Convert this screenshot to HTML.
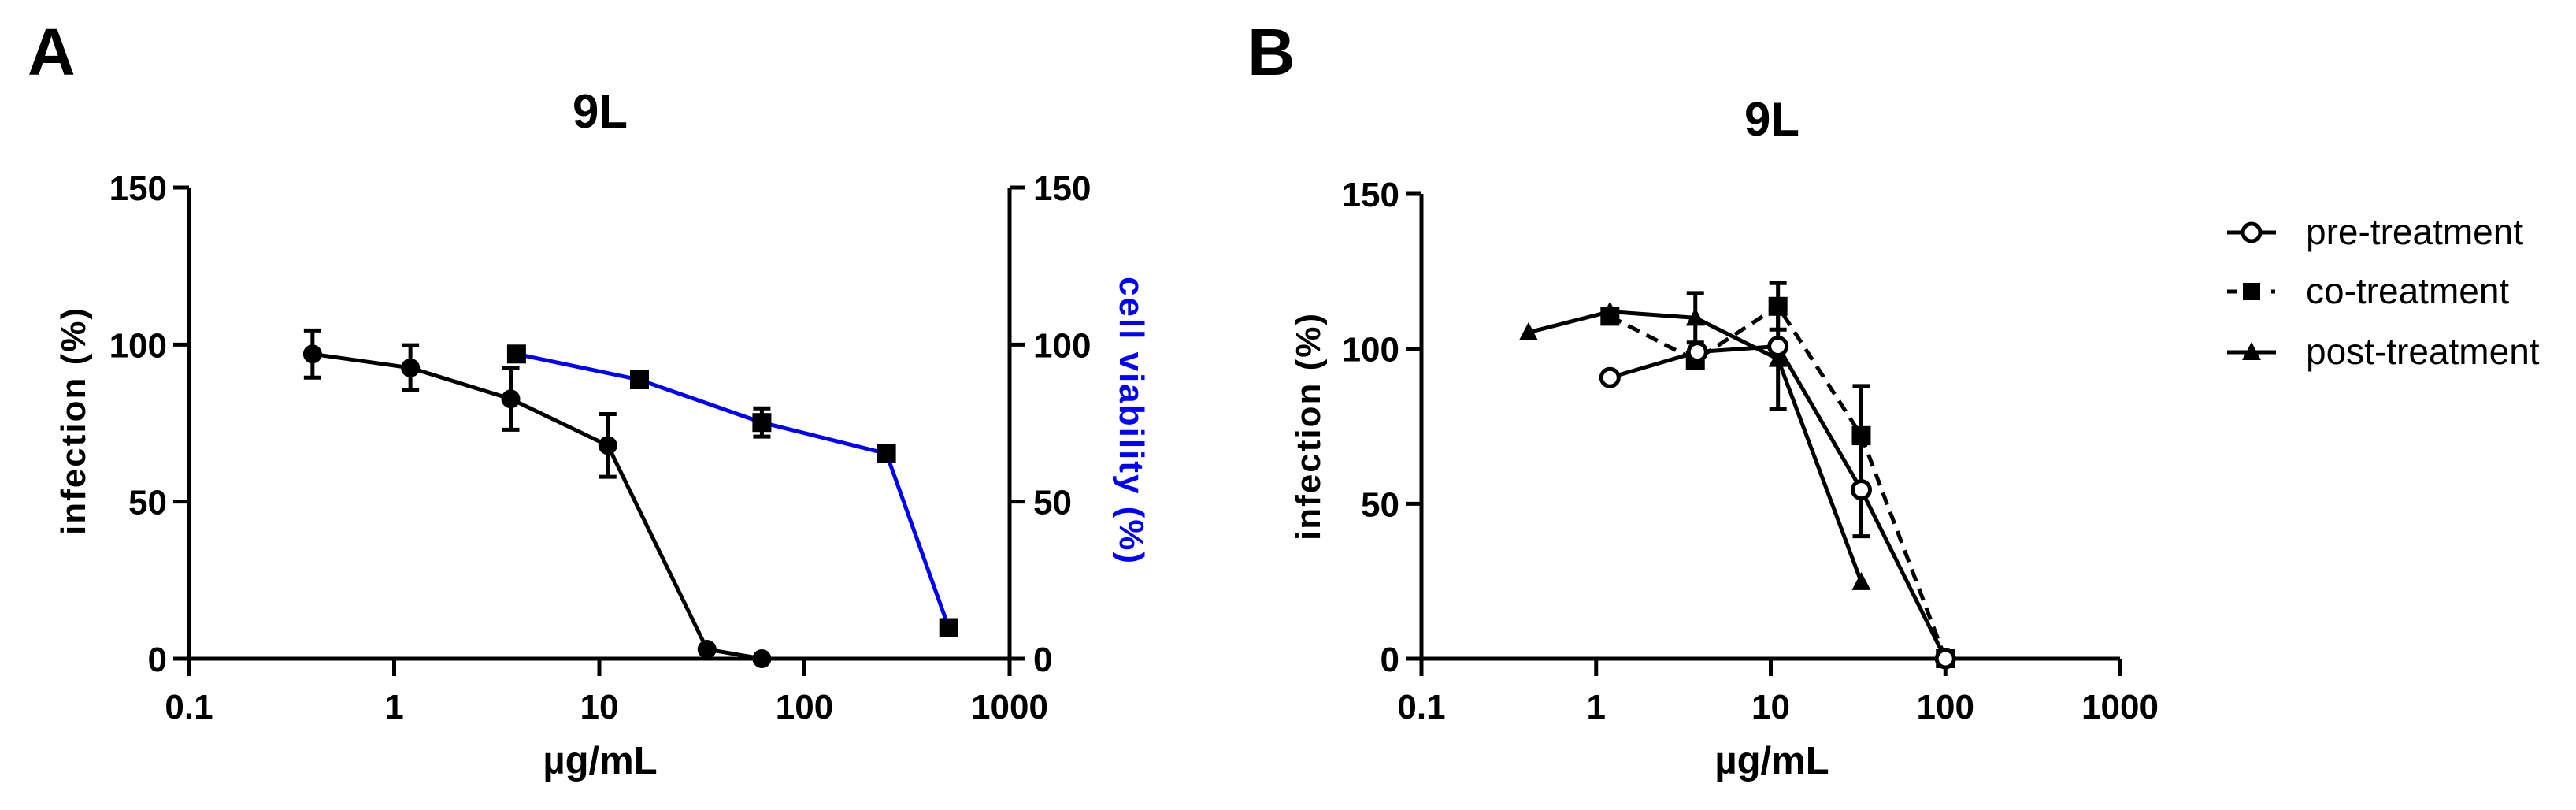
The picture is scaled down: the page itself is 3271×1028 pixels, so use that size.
<!DOCTYPE html>
<html><head><meta charset="utf-8"><style>
html,body{margin:0;padding:0;background:#fff;}
svg{display:block;font-family:"Liberation Sans",Arial,sans-serif;}
</style></head><body>
<svg id="fig" width="3271" height="1028" viewBox="0 0 3271 1028">
<g id="panelA"></g>
<g id="panelB"></g>
</svg>
<script>
// Panel A data
const aInfX = [0.4, 1.2, 3.7, 11, 33.5, 62];
const aInfY = [97, 92.6, 82.7, 67.9, 3, 0];
const aInfErr = [7.5, 7.2, 9.8, 10, 0, 0];
const aViaX = [3.95, 15.7, 62, 251, 505];
const aViaY = [97, 88.8, 75.2, 65.3, 9.9];
const aViaErr = [0, 0, 4.5, 1.5, 0];
// Panel B data
const bPreX = [1.2, 3.8, 11, 33, 100];
const bPreY = [90.7, 99, 100.8, 54.5, 0];
const bPreErr = [0, 0, 0, 15, 0];
const bCoX = [1.2, 3.7, 11, 33, 100];
const bCoY = [110.5, 96.3, 113.7, 72, 0];
const bCoErr = [0, 0, 7.5, 16, 0];
const bPostX = [0.41, 1.2, 3.7, 11, 33];
const bPostY = [105.3, 112, 110, 96.7, 24.7];
const bPostErr = [0, 0, 8, 16, 0];
const xTicks = [0.1, 1, 10, 100, 1000];
const xTickLabels = ["0.1", "1", "10", "100", "1000"];
const yTicks = [0, 50, 100, 150];

const NS = "http://www.w3.org/2000/svg";
function mk(parent, tag, attrs, text){
  const e = document.createElementNS(NS, tag);
  for (const k in attrs) e.setAttribute(k, attrs[k]);
  if (text !== undefined) e.textContent = text;
  parent.appendChild(e);
  return e;
}
function axes(x0, x1, y0, y1){
  const sx = v => x0 + (Math.log10(v) + 1) / 4 * (x1 - x0);
  const sy = v => y0 - v / 150 * (y0 - y1);
  return {sx, sy};
}
function drawSeries(g, ax, xs, ys, errs, color, marker, dash, name){
  let d = "";
  xs.forEach((x, i) => { d += (i ? "L" : "M") + ax.sx(x) + " " + ax.sy(ys[i]); });
  const p = mk(g, "path", {d, fill:"none", stroke:color, "stroke-width":5, "stroke-dasharray":dash||"none"});
  
  
  xs.forEach((x, i) => {
    const cx = ax.sx(x), cy = ax.sy(ys[i]);
    if (errs[i] > 0){
      const t = ax.sy(ys[i] + errs[i]), b = ax.sy(ys[i] - errs[i]);
      const eb = mk(g, "path", {d:`M${cx} ${t}L${cx} ${b}M${cx-11} ${t}L${cx+11} ${t}M${cx-11} ${b}L${cx+11} ${b}`, stroke:"#000", "stroke-width":5, fill:"none"});
      
      
    }
    let m;
    if (marker === "circle") m = mk(g, "circle", {cx, cy, r:12, fill:"#000"});
    else if (marker === "open") m = mk(g, "circle", {cx, cy, r:11, fill:"#fff", stroke:"#000", "stroke-width":5});
    else if (marker === "square") m = mk(g, "rect", {x:cx-12, y:cy-12, width:24, height:24, fill:"#000"});
    else m = mk(g, "path", {d:`M${cx} ${cy-13}L${cx+12} ${cy+10}L${cx-12} ${cy+10}Z`, fill:"#000"});
    
    
  });
}
function frame(g, ax, x0, x1, y0, y1, cx, letter, lx, ty){
  const l = mk(g, "text", {x:lx, y:95, "font-size":84, "font-weight":"bold"}, letter);
  
  
  const t = mk(g, "text", {x:cx, y:ty, "font-size":60, "font-weight":"bold", "text-anchor":"middle"}, "9L");
  
  
  const a = mk(g, "path", {d:`M${x0} ${y1}L${x0} ${y0}L${x1} ${y0}`, fill:"none", stroke:"#000", "stroke-width":5});
  
  
  xTicks.forEach((v, i) => {
    const x = ax.sx(v);
    const tk = mk(g, "line", {x1:x, x2:x, y1:y0, y2:y0+22, stroke:"#000", "stroke-width":5});
    
    
    const tl = mk(g, "text", {x, y:y0+76, "font-size":44, "font-weight":"bold", "text-anchor":"middle"}, xTickLabels[i]);
    
    
  });
  yTicks.forEach(v => {
    const y = ax.sy(v);
    const tk = mk(g, "line", {x1:x0-20, x2:x0, y1:y, y2:y, stroke:"#000", "stroke-width":5});
    
    
    const tl = mk(g, "text", {x:x0-28, y:y+16, "font-size":44, "font-weight":"bold", "text-anchor":"end"}, String(v));
    
    
  });
  const xt = mk(g, "text", {x:cx, y:982, "font-size":49, "font-weight":"bold", "text-anchor":"middle"}, "µg/mL");
  
  
}

// Panel A
const gA = document.getElementById("panelA");
const A = axes(240, 1282, 836, 238);
frame(gA, A, 240, 1282, 836, 238, 762, "A", 35, 162);
const yl = mk(gA, "text", {x:0, y:0, transform:"translate(108,534) rotate(-90)", "font-size":44, "font-weight":"bold", "text-anchor":"middle", "letter-spacing":"2"}, "infection (%)");


const ra = mk(gA, "line", {x1:1282, x2:1282, y1:238, y2:836, stroke:"#000", "stroke-width":5});


yTicks.forEach(v => {
  const y = A.sy(v);
  const tk = mk(gA, "line", {x1:1282, x2:1302, y1:y, y2:y, stroke:"#000", "stroke-width":5});
  
  
  const tl = mk(gA, "text", {x:1312, y:y+16, "font-size":44, "font-weight":"bold"}, String(v));
  
  
});
const yr = mk(gA, "text", {x:0, y:0, transform:"translate(1422,534) rotate(90)", "font-size":44, "font-weight":"bold", "text-anchor":"middle", fill:"#0000ff", "letter-spacing":"2"}, "cell viability (%)");


drawSeries(gA, A, aViaX, aViaY, aViaErr, "#0000ff", "square", null, "viability");
drawSeries(gA, A, aInfX, aInfY, aInfErr, "#000", "circle", null, "infection");

// Panel B
const gB = document.getElementById("panelB");
const B = axes(1805, 2692, 836, 246);
frame(gB, B, 1805, 2692, 836, 246, 2250, "B", 1584, 172);
const ylb = mk(gB, "text", {x:0, y:0, transform:"translate(1676,541) rotate(-90)", "font-size":44, "font-weight":"bold", "text-anchor":"middle", "letter-spacing":"2"}, "infection (%)");


drawSeries(gB, B, bPostX, bPostY, bPostErr, "#000", "triangle", null, "post-treatment");
drawSeries(gB, B, bCoX, bCoY, bCoErr, "#000", "square", "16 10", "co-treatment");
drawSeries(gB, B, bPreX, bPreY, bPreErr, "#000", "open", null, "pre-treatment");

// Legend
const legNames = ["pre-treatment", "co-treatment", "post-treatment"];
const legY = [295, 370, 447];
legNames.forEach((n, i) => {
  const g = mk(gB, "g", {});
  
  
  const y = legY[i], cx = 2859;
  if (i === 1){
    mk(g, "path", {d:`M2828 ${y}L2840 ${y}M2884 ${y}L2889 ${y}`, stroke:"#000", "stroke-width":5});
  } else {
    mk(g, "line", {x1:2828, x2:2890, y1:y, y2:y, stroke:"#000", "stroke-width":5});
  }
  if (i === 0) mk(g, "circle", {cx, cy:y, r:11, fill:"#fff", stroke:"#000", "stroke-width":5});
  else if (i === 1) mk(g, "rect", {x:cx-11, y:y-11, width:22, height:22, fill:"#000"});
  else mk(g, "path", {d:`M${cx} ${y-13}L${cx+12} ${y+10}L${cx-12} ${y+10}Z`, fill:"#000"});
  mk(g, "text", {x:2928, y:y+15, "font-size":46}, n);
});
</script>
</body></html>
